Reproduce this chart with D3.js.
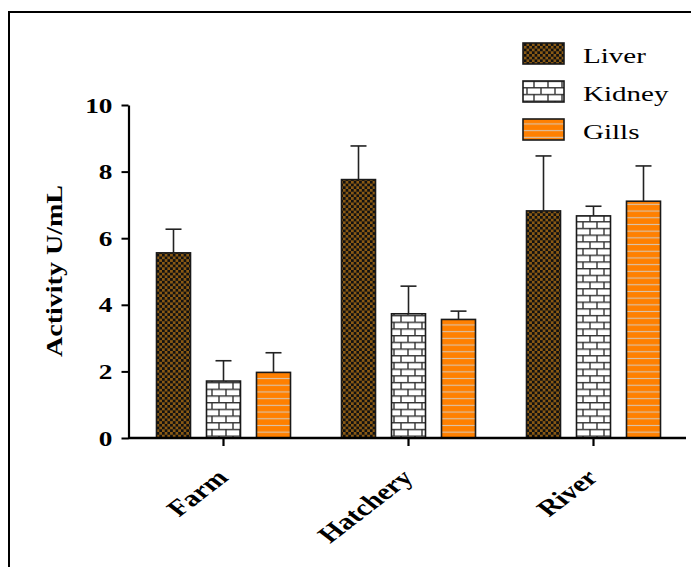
<!DOCTYPE html>
<html>
<head>
<meta charset="utf-8">
<script src="https://cdn.jsdelivr.net/npm/d3@7"></script>
<style>
  html, body { margin: 0; padding: 0; background: #fff; }
  svg { display: block; }
</style>
</head>
<body>
<svg id="chart" width="691" height="567"></svg>
<script>
const groups = ["Farm", "Hatchery", "River"];
const seriesNames = ["Liver", "Kidney", "Gills"];
const liverMean = [5.56, 7.76, 6.82];
const liverSD = [0.71, 1.01, 1.65];
const kidneyMean = [1.71, 3.73, 6.67];
const kidneySD = [0.61, 0.83, 0.29];
const gillsMean = [1.97, 3.56, 7.11];
const gillsSD = [0.59, 0.25, 1.06];
const yTicks = [0, 2, 4, 6, 8, 10];
const yLabel = "Activity U/mL";

const means = [liverMean, kidneyMean, gillsMean];
const sds = [liverSD, kidneySD, gillsSD];
const data = [];
groups.forEach((g, gi) => {
  seriesNames.forEach((s, si) => {
    data.push({ group: g, series: s, mean: means[si][gi], sd: sds[si][gi] });
  });
});

const svg = d3.select("#chart");
const defs = svg.append("defs");

// Liver: brown/black checker
const pL = defs.append("pattern").attr("id", "pat-Liver").attr("patternUnits", "userSpaceOnUse")
  .attr("width", 5.4).attr("height", 5.4);
pL.append("rect").attr("width", 5.4).attr("height", 5.4).attr("fill", "#8a5a14");
pL.append("rect").attr("width", 2.7).attr("height", 2.7).attr("fill", "#111");
pL.append("rect").attr("x", 2.7).attr("y", 2.7).attr("width", 2.7).attr("height", 2.7).attr("fill", "#111");

// Kidney: brick
const bw = 14, bh = 6.7;
const pK = defs.append("pattern").attr("id", "pat-Kidney").attr("patternUnits", "userSpaceOnUse")
  .attr("width", bw).attr("height", bh * 2);
pK.append("rect").attr("width", bw).attr("height", bh * 2).attr("fill", "#fff");
pK.append("line").attr("x1", 0).attr("x2", bw).attr("y1", 0.7).attr("y2", 0.7).attr("stroke", "#333").attr("stroke-width", 1.4);
pK.append("line").attr("x1", 0).attr("x2", bw).attr("y1", bh + 0.7).attr("y2", bh + 0.7).attr("stroke", "#333").attr("stroke-width", 1.4);
pK.append("line").attr("x1", 2).attr("x2", 2).attr("y1", 0).attr("y2", bh).attr("stroke", "#333").attr("stroke-width", 1.4);
pK.append("line").attr("x1", 9).attr("x2", 9).attr("y1", bh).attr("y2", bh * 2).attr("stroke", "#333").attr("stroke-width", 1.4);

// Gills: orange with light stripes
const pG = defs.append("pattern").attr("id", "pat-Gills").attr("patternUnits", "userSpaceOnUse")
  .attr("width", 10).attr("height", 6.7);
pG.append("rect").attr("width", 10).attr("height", 6.7).attr("fill", "#ff8000");
pG.append("rect").attr("y", 2.8).attr("width", 10).attr("height", 1.1).attr("fill", "#d8c4ae");

// outer frame
svg.append("rect").attr("x", 9).attr("y", 12).attr("width", 700).attr("height", 600)
  .attr("fill", "none").attr("stroke", "#000").attr("stroke-width", 2);

const x0 = d3.scaleBand().domain(groups).range([131, 686]).padding(0);
const x1 = d3.scaleBand().domain(seriesNames).range([-75, 75]).paddingInner(0.32).paddingOuter(0.16);
const y = d3.scaleLinear().domain([0, 10]).range([438, 105]);

// bars
const bars = svg.append("g");
bars.selectAll("rect").data(data).join("rect")
  .attr("x", d => x0(d.group) + x0.bandwidth() / 2 + x1(d.series))
  .attr("y", d => y(d.mean))
  .attr("width", x1.bandwidth())
  .attr("height", d => y(0) - y(d.mean))
  .attr("fill", d => `url(#pat-${d.series})`)
  .attr("stroke", "#1a1a1a").attr("stroke-width", 1.6);

// error bars (upper only)
const err = svg.append("g").attr("stroke", "#222").attr("stroke-width", 1.6);
data.forEach(d => {
  const cx = x0(d.group) + x0.bandwidth() / 2 + x1(d.series) + x1.bandwidth() / 2;
  err.append("line").attr("x1", cx).attr("x2", cx).attr("y1", y(d.mean)).attr("y2", y(d.mean + d.sd));
  err.append("line").attr("x1", cx - 8).attr("x2", cx + 8).attr("y1", y(d.mean + d.sd)).attr("y2", y(d.mean + d.sd));
});

// y axis
const yAxis = svg.append("g").attr("transform", "translate(128.5,0)")
  .call(d3.axisLeft(y).tickValues(yTicks).tickSize(7).tickPadding(9).tickSizeOuter(0));
yAxis.select(".domain").attr("stroke", "#000").attr("stroke-width", 2.2);
yAxis.selectAll(".tick line").attr("stroke", "#000").attr("stroke-width", 2);
yAxis.selectAll(".tick text")
  .attr("x", null).attr("dy", null)
  .attr("transform", "translate(-16,7) scale(1.3,1)")
  .attr("font-family", "'Liberation Serif', 'Times New Roman', serif")
  .attr("font-weight", "bold").attr("font-size", 21).attr("fill", "#000");

// x axis
const xAxis = svg.append("g").attr("transform", "translate(0,438)")
  .call(d3.axisBottom(x0).tickSize(8).tickSizeOuter(0));
xAxis.select(".domain").attr("stroke", "#000").attr("stroke-width", 2.6)
  .attr("d", "M128,0H686");
xAxis.selectAll(".tick line").attr("stroke", "#000").attr("stroke-width", 2.2);
xAxis.selectAll(".tick text")
  .attr("y", null).attr("dy", null)
  .attr("text-anchor", "end")
  .attr("transform", "translate(6,41) scale(1.3,1) rotate(-45)")
  .attr("font-family", "'Liberation Serif', 'Times New Roman', serif")
  .attr("font-weight", "bold").attr("font-size", 23).attr("fill", "#000");

// y label
svg.append("text")
  .attr("transform", "translate(62,271) rotate(-90)")
  .attr("text-anchor", "middle")
  .attr("font-family", "'Liberation Serif', 'Times New Roman', serif")
  .attr("font-weight", "bold").attr("font-size", 24)
  .attr("textLength", 172).attr("lengthAdjust", "spacingAndGlyphs")
  .text(yLabel);

// legend
const legend = svg.append("g");
seriesNames.forEach((s, i) => {
  const gy = 43 + i * 38;
  legend.append("rect").attr("x", 523).attr("y", gy).attr("width", 41).attr("height", 21)
    .attr("fill", `url(#pat-${s})`).attr("stroke", "#1a1a1a").attr("stroke-width", 1.6);
  legend.append("text")
    .attr("transform", `translate(583,${gy + 20}) scale(1.32,1)`)
    .attr("font-family", "'Liberation Serif', 'Times New Roman', serif")
    .attr("font-size", 22).attr("fill", "#000")
    .text(s);
});
</script>
</body>
</html>
